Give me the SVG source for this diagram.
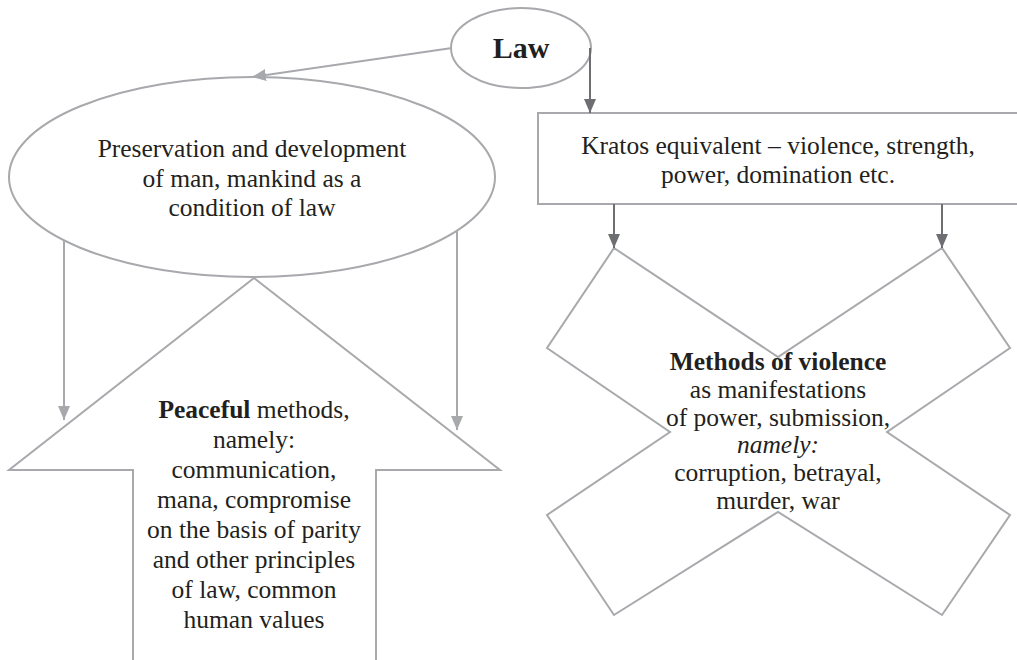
<svg xmlns="http://www.w3.org/2000/svg" width="1017" height="660" viewBox="0 0 1017 660" font-family="'Liberation Serif', 'DejaVu Serif', serif">
<style>
.shape{fill:#ffffff;stroke:#a7a9ac;stroke-width:2}
.lite{stroke:#a7a9ac;stroke-width:2;fill:none}
.dark{stroke:#6d6e71;stroke-width:2;fill:none}
text{font-family:'Liberation Serif','DejaVu Serif',serif;font-size:25.5px;fill:#231f20;text-anchor:middle}
.b{font-weight:bold}
.i{font-style:italic}
</style>
<defs>
<marker id="ahL" markerWidth="14" markerHeight="12" refX="14" refY="6" orient="auto" markerUnits="userSpaceOnUse">
<path d="M0,0 L14,6 L0,12 Z" fill="#a7a9ac"/>
</marker>
<marker id="ahD" markerWidth="14" markerHeight="12" refX="14" refY="6" orient="auto" markerUnits="userSpaceOnUse">
<path d="M0,0 L14,6 L0,12 Z" fill="#6d6e71"/>
</marker>
</defs>
<rect width="1017" height="660" fill="#ffffff"/>

<g id="peaceful">
<polygon class="shape" points="254,278 500,470 376,470 376,664 133,664 133,470 9,470"/>
<text x="254" y="418"><tspan class="b">Peaceful</tspan> methods,</text>
<text x="254" y="448">namely:</text>
<text x="254" y="478">communication,</text>
<text x="254" y="508">mana, compromise</text>
<text x="254" y="538">on the basis of parity</text>
<text x="254" y="568">and other principles</text>
<text x="254" y="598">of law, common</text>
<text x="254" y="628">human values</text>
</g>

<g id="violence">
<polygon class="shape" points="614,248 778,357 942,248 1010,348 887,432 1010,515 942,615 778,512 614,615 547,515 670,432 547,348"/>
<text x="778" y="370" class="b">Methods of violence</text>
<text x="778" y="398">as manifestations</text>
<text x="778" y="426">of power, submission,</text>
<text x="778" y="453" class="i">namely:</text>
<text x="778" y="481">corruption, betrayal,</text>
<text x="778" y="509">murder, war</text>
</g>

<g id="preservation">
<ellipse class="shape" cx="252" cy="177" rx="243" ry="100"/>
<text x="252" y="157">Preservation and development</text>
<text x="252" y="187">of man, mankind as a</text>
<text x="252" y="216">condition of law</text>
</g>

<g id="kratos">
<rect class="shape" x="538" y="113" width="490" height="91"/>
<text x="778" y="154">Kratos equivalent – violence, strength,</text>
<text x="778" y="183">power, domination etc.</text>
</g>

<g id="law">
<ellipse class="shape" cx="521" cy="48" rx="70" ry="40"/>
<text x="521" y="58" class="b" style="font-size:30px">Law</text>
</g>

<g id="connectors">
<line class="lite" x1="452" y1="48" x2="252" y2="77" marker-end="url(#ahL)"/>
<line class="dark" x1="590" y1="48" x2="590" y2="113" marker-end="url(#ahD)"/>
<line class="dark" x1="614" y1="204" x2="614" y2="248" marker-end="url(#ahD)"/>
<line class="dark" x1="942" y1="204" x2="942" y2="248" marker-end="url(#ahD)"/>
<line class="lite" x1="64" y1="240" x2="64" y2="420" marker-end="url(#ahL)"/>
<line class="lite" x1="457" y1="231" x2="457" y2="430" marker-end="url(#ahL)"/>
</g>
</svg>
